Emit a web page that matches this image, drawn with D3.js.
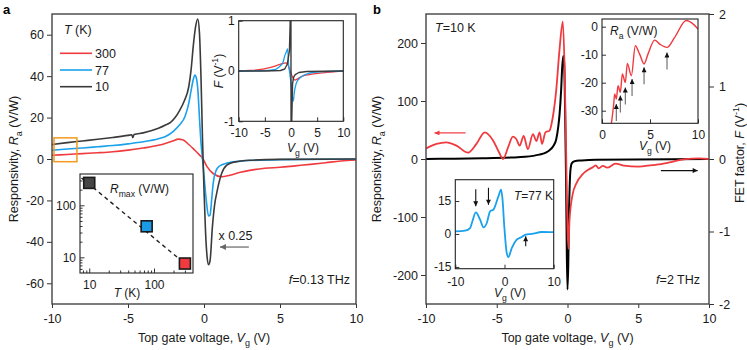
<!DOCTYPE html>
<html>
<head>
<meta charset="utf-8">
<script src="https://cdn.jsdelivr.net/npm/d3@7"></script>
<style>
body { margin: 0; background: #fff; }
svg { font-family: "Liberation Sans", Arial, Helvetica, sans-serif; }
</style>
</head>
<body>
<svg id="fig" width="747" height="350"></svg>
<script>
// ---------- panel a: responsivity vs gate voltage (T = 300, 77, 10 K) ----------
const aVg300 = [-10,-9,-8,-7,-6,-5,-4,-3,-2.5,-2,-1.7,-1.4,-1,-0.6,-0.3,-0.1,0.2,0.6,1.16,1.7,2.4,3,4,5,6,7,8,9,10];
const aRa300 = [1.8,2.2,2.6,3.0,3.5,4.3,5.3,6.6,7.6,8.8,9.6,9.3,7.0,4.2,2.0,0.5,-3.7,-7.0,-8.6,-7.8,-6.4,-5.5,-4.5,-4.0,-3.3,-2.6,-1.8,-1.0,-0.5];

const aVg77 = [-10,-9,-8,-7,-6,-5,-4,-3,-2.5,-2,-1.6,-1.25,-1,-0.85,-0.7,-0.6,-0.5,-0.4,-0.3,-0.2,-0.1,0,0.15,0.3,0.4,0.5,0.6,0.8,1,1.5,2.5,5,10];
const aRa77 = [4.2,4.8,5.3,5.9,6.5,7.3,8.3,9.8,11,13.5,16.5,20.5,27,33,38.5,40.5,39,33,20,8,0,-8,-20,-27.5,-27,-20,-12,-5.5,-3.5,-2,-1,-0.3,0];

const aVg10 = [-10,-9,-8,-7,-6,-5,-4.75,-4.68,-4.6,-4,-3,-2.5,-2.2,-1.9,-1.6,-1.3,-1,-0.85,-0.7,-0.55,-0.41,-0.3,-0.2,-0.1,0,0.1,0.2,0.3,0.4,0.55,0.7,0.85,1,1.16,1.5,2,3,5,10];
const aRa10 = [7.0,7.9,8.7,9.5,10.4,11.4,11.7,10.3,11.8,12.6,14.8,16.5,17.7,20,23.5,28,35,43,55,64,67.6,61,40,10,-15,-35,-47,-51,-49,-33,-22,-16,-11,-7,-3,-1.5,-0.6,-0.2,0];

const aTemps = ['300', '77', '10'];
const aXTicks = [-10, -5, 0, 5, 10];
const aYTicks = [-60, -40, -20, 0, 20, 40, 60];

// inset a1: FET factor F vs Vg
const fVg300 = [-10,-8,-6.5,-4.3,-2.4,-1.5,-1,-0.7,-0.4,-0.1,0.3,0.76,1.2,2.2,3.5,4.8,6.5,8.6,10];
const fF300 = [0,0.01,0.02,0.06,0.12,0.15,0.16,0.14,0.08,-0.02,-0.12,-0.18,-0.16,-0.1,-0.07,-0.05,-0.03,-0.01,0];
const fVg77 = [-10,-6,-4.3,-3,-2.4,-1.5,-1.2,-0.9,-0.63,-0.45,-0.3,0,0.25,0.45,0.6,0.96,1.5,2.2,3,4.8,7,10];
const fF77 = [0,0.005,0.01,0.03,0.07,0.18,0.3,0.38,0.44,0.1,0,-0.25,-0.5,-0.6,-0.45,-0.26,-0.16,-0.1,-0.06,-0.02,-0.01,0];
const fVg10 = [-10,-5,-2,-1.2,-0.7,-0.3,-0.1,-0.03,0.03,0.1,0.3,0.5,0.8,1.5,3,10];
const fF10 = [0,0,0.01,0.04,0.14,0.4,1.2,3,-3,-1.2,-0.25,-0.12,-0.07,-0.03,-0.01,0];
const fYTicks = [-1, 0, 1];

// inset a2: max responsivity vs temperature (log-log)
const rmaxT = [10, 77, 300];
const rmaxR = [270, 39.5, 7.6];
const fitT = [7.6, 300];
const fitR = [336, 7.6];
const rTicks = [10, 100];

// ---------- panel b: T = 10 K, f = 2 THz ----------
const bVgRed = [-10,-9.85,-9.26,-8.56,-7.85,-7.03,-6.44,-5.85,-5.26,-4.85,-4.56,-4.2,-3.86,-3.62,-3.38,-3.1,-2.8,-2.44,-2.2,-1.97,-1.8,-1.56,-1.27,-1.04,-0.8,-0.57,-0.33,-0.2,-0.1,0,0.07,0.14,0.37,0.61,1.08,1.5,1.8,2,2.2,2.5,2.8,3.4,4,5,6,6.6,7.2,8,8.8,9.3,10];
const bRaRed = [18,20,26,28.7,23,11,26,46,32,12,0,20,38.5,34.5,23,40,17,43,31,46,26,46,49,72,118,187,237,150,20,-120,-155,-106,-60,-43,-26,-18,-14,-11,-16,-12,-15,-8,-11.5,-13,-10.5,-9,-6,-1.5,0.5,1,0];
const bVgBlk = [-10,-8,-6,-4,-3,-2,-1.5,-1.27,-1,-0.8,-0.65,-0.56,-0.45,-0.38,-0.3,-0.24,-0.18,-0.1,-0.05,0,0.06,0.1,0.15,0.2,0.3,0.5,1,2,10];
const bFBlk = [0,0.005,0.01,0.02,0.03,0.06,0.09,0.12,0.18,0.27,0.45,0.62,0.95,1.25,1.42,1.35,0.8,-0.3,-1.3,-1.8,-1.4,-0.8,-0.4,-0.17,-0.06,-0.03,-0.02,-0.01,0];
const bYTicks = [-200, -100, 0, 100, 200];
const bFTicks = [-2, -1, 0, 1, 2];

// inset b1: R_a at positive Vg, dips marked by arrows
const b1Vg = [0.97,1.22,1.32,1.49,1.67,1.91,2.12,2.43,2.64,3.06,3.47,3.92,4.38,4.79,5.49,6.01,6.77,7.57,8.78,9.48,10];
const b1Ra = [-34.8,-27.6,-24,-25.8,-21.1,-23.4,-16.9,-19.9,-13.1,-17.5,-6.8,-9.8,-13.3,-9.8,-4.8,-6.2,-7.4,-3.8,2.2,1.0,-0.8];
const b1ArrowVg = [1.49, 1.91, 2.43, 3.13, 4.38, 6.77];
const b1ArrowRa = [-27.6, -24.6, -21.7, -18.7, -14.5, -9.2];
const b1YTicks = [-30, -20, -10, 0];
const b1XTicks = [0, 5, 10];

// inset b2: T = 77 K
const b2Vg = [-10,-8,-7,-6.52,-5.84,-4.96,-4.28,-3.6,-2.93,-2.25,-1.24,-0.7,-0.43,-0.02,0.45,0.79,1.47,2.48,3.5,4.31,5.53,7.56,10];
const b2Ra = [1.2,1.5,2.7,5.8,9.8,6.5,3.0,5.0,10.3,11.1,17.1,20.2,16.4,2.7,-8.6,-10.5,-6.4,-2.6,-1.4,-0.3,0,0.9,0.8];
const b2DownVg = [-5.84, -3.26];
const b2DownRa = [12.6, 13.3];
const b2UpVg = [4.31];
const b2UpRa = [-1.05];
const b2YTicks = [-15, 0, 15];
const b2XTicks = [-10, 0, 10];

// ---------- drawing ----------
const red = '#ef3a3f', blue = '#19a1ec', dark = '#3b3b3b', ink = '#1a1a1a';
const svg = d3.select('#fig');
const defs = svg.append('defs');
const fmt = d => String(d);

function clip(id, x, y, w, h) {
  defs.append('clipPath').attr('id', id).append('rect')
    .attr('x', x).attr('y', y).attr('width', w).attr('height', h);
}

function marker(id, color, w, h) {
  defs.append('marker').attr('id', id)
    .attr('viewBox', '0 0 10 10').attr('refX', 10).attr('refY', 5)
    .attr('markerWidth', w).attr('markerHeight', h)
    .attr('markerUnits', 'userSpaceOnUse').attr('orient', 'auto')
    .append('path').attr('d', 'M0,0L10,5L0,10z').attr('fill', color);
}
marker('hRed', red, 9, 5);
marker('hBlk', '#111', 9, 5);
marker('hGray', '#666', 9, 6);
marker('hSmall', '#111', 6, 5);

function styleAxis(g, fs) {
  g.attr('font-family', null).attr('font-size', fs);
  g.select('.domain').remove();
  g.selectAll('.tick line').attr('stroke', '#333');
  g.selectAll('.tick text').attr('fill', ink);
}

// text with italic / sub / superscript parts
function rich(parent, parts, fs) {
  const t = parent.append('text').attr('font-size', fs).attr('fill', ink);
  let shift = 0;
  parts.forEach(p => {
    const s = t.append('tspan').text(p.t);
    let want = 0;
    if (p.sub) want = fs * 0.3;
    if (p.sup) want = -fs * 0.38;
    if (want !== shift) { s.attr('dy', want - shift); shift = want; }
    if (p.i) s.attr('font-style', 'italic');
    if (p.sub || p.sup) s.attr('font-size', fs * 0.72);
  });
  return t;
}

function line(g, xs, ys, sx, sy, color, w, curve) {
  g.append('path')
    .datum(xs.map((x, i) => [x, ys[i]]))
    .attr('fill', 'none').attr('stroke', color).attr('stroke-width', w)
    .attr('stroke-linejoin', 'round')
    .attr('d', d3.line().x(d => sx(d[0])).y(d => sy(d[1])).curve(curve || d3.curveMonotoneX));
}

function frame(x0, y0, x1, y1, w, col) {
  svg.append('rect').attr('x', x0).attr('y', y0).attr('width', x1 - x0).attr('height', y1 - y0)
    .attr('fill', 'none').attr('stroke', col).attr('stroke-width', w);
}

const vgLabel = [{t: 'V', i: true}, {t: 'g', sub: true}, {t: ' (V)'}];

// ===== panel a =====
const A = {x0: 52, x1: 356, y0: 14, y1: 304};
const xa = d3.scaleLinear().domain([-10, 10]).range([A.x0, A.x1]);
const ya = d3.scaleLinear().domain([-70, 70]).range([A.y1, A.y0]);
clip('clipA', A.x0, A.y0, A.x1 - A.x0, A.y1 - A.y0);

svg.append('g').attr('transform', `translate(0,${A.y1})`)
  .call(d3.axisBottom(xa).tickValues(aXTicks).tickFormat(fmt).tickSize(4).tickPadding(6))
  .call(styleAxis, 12.5);
svg.append('g').attr('transform', `translate(${A.x0},0)`)
  .call(d3.axisLeft(ya).tickValues(aYTicks).tickFormat(fmt).tickSize(5).tickPadding(3))
  .call(styleAxis, 12.5);

const gA = svg.append('g').attr('clip-path', 'url(#clipA)');
line(gA, aVg300, aRa300, xa, ya, red, 1.6);
line(gA, aVg77, aRa77, xa, ya, blue, 1.6);
line(gA, aVg10, aRa10, xa, ya, dark, 1.6);
frame(A.x0, A.y0, A.x1, A.y1, 1.4, '#444');

// highlighted low-voltage region
svg.append('rect').attr('x', xa(-9.87)).attr('y', ya(10.2))
  .attr('width', xa(-8.36) - xa(-9.87)).attr('height', ya(-1.3) - ya(10.2))
  .attr('fill', 'none').attr('stroke', '#f39a1e').attr('stroke-width', 1.5);

// legend
rich(svg, [{t: 'T', i: true}, {t: ' (K)'}], 12.5).attr('x', 64).attr('y', 33.5);
const legColors = [red, blue, dark];
aTemps.forEach((t, i) => {
  const y = 53.3 + i * 16.7;
  svg.append('line').attr('x1', 60).attr('x2', 92).attr('y1', y).attr('y2', y)
    .attr('stroke', legColors[i]).attr('stroke-width', 1.6);
  svg.append('text').attr('x', 95).attr('y', y + 4.5).attr('font-size', 12.5).attr('fill', ink).text(t);
});

// scaling note
svg.append('text').attr('x', xa(0.95)).attr('y', ya(-39.3)).attr('font-size', 12.5).attr('fill', ink).text('x 0.25');
svg.append('line').attr('x1', xa(2.95)).attr('x2', xa(1.05)).attr('y1', ya(-42.5)).attr('y2', ya(-42.5))
  .attr('stroke', '#666').attr('stroke-width', 1.2).attr('marker-end', 'url(#hGray)');

rich(svg, [{t: 'f', i: true}, {t: '=0.13 THz'}], 12.5).attr('x', 350).attr('y', 284).attr('text-anchor', 'end');

// axis labels
rich(svg, [{t: 'Top gate voltage, '}].concat(vgLabel), 12.5)
  .attr('x', (A.x0 + A.x1) / 2).attr('y', 342).attr('text-anchor', 'middle');
rich(svg, [{t: 'Responsivity, '}, {t: 'R', i: true}, {t: 'a', sub: true}, {t: ' (V/W)'}], 12.5)
  .attr('text-anchor', 'middle').attr('transform', 'translate(18,159) rotate(-90)');

svg.append('text').attr('x', 3).attr('y', 14).attr('font-size', 13).attr('font-weight', 'bold').attr('fill', '#000').text('a');

// --- inset a1: F vs Vg ---
const F1 = {x0: 238.7, x1: 343.3, y0: 20.7, y1: 121.3};
const xf = d3.scaleLinear().domain([-10, 10]).range([F1.x0, F1.x1]);
const yf = d3.scaleLinear().domain([-1, 1]).range([F1.y1, F1.y0]);
clip('clipF', F1.x0, F1.y0, F1.x1 - F1.x0, F1.y1 - F1.y0);
svg.append('rect').attr('x', F1.x0).attr('y', F1.y0).attr('width', F1.x1 - F1.x0).attr('height', F1.y1 - F1.y0).attr('fill', '#fff');
svg.append('g').attr('transform', `translate(0,${F1.y1})`)
  .call(d3.axisBottom(xf).tickValues(aXTicks).tickFormat(fmt).tickSize(-4).tickPadding(7))
  .call(styleAxis, 12);
svg.append('g').attr('transform', `translate(${F1.x0},0)`)
  .call(d3.axisLeft(yf).tickValues(fYTicks).tickFormat(fmt).tickSize(-4).tickPadding(4))
  .call(styleAxis, 12);
const gF = svg.append('g').attr('clip-path', 'url(#clipF)');
line(gF, fVg300, fF300, xf, yf, red, 1.3);
line(gF, fVg77, fF77, xf, yf, blue, 1.3);
line(gF, fVg10, fF10, xf, yf, dark, 1.4, d3.curveLinear);
frame(F1.x0, F1.y0, F1.x1, F1.y1, 1.1, '#222');
rich(svg, [{t: 'F', i: true}, {t: ' (V'}, {t: '-1', sup: true}, {t: ')'}], 12)
  .attr('text-anchor', 'middle').attr('transform', 'translate(223,71) rotate(-90)');
rich(svg, vgLabel, 12).attr('x', 303).attr('y', 152).attr('text-anchor', 'middle');

// --- inset a2: Rmax vs T ---
const R2 = {x0: 80, x1: 193, y0: 174, y1: 273};
const rx = d3.scaleLog().domain([7.2, 400]).range([R2.x0, R2.x1]);
const ry = d3.scaleLog().domain([5, 400]).range([R2.y1, R2.y0]);
svg.append('rect').attr('x', R2.x0).attr('y', R2.y0).attr('width', R2.x1 - R2.x0).attr('height', R2.y1 - R2.y0).attr('fill', '#fff');
const minorX = [8, 9, 20, 30, 40, 50, 60, 70, 80, 90, 200, 300];
const minorY = [6, 7, 8, 9, 20, 30, 40, 50, 60, 70, 80, 90, 200, 300];
svg.append('g').attr('transform', `translate(0,${R2.y1})`)
  .call(d3.axisBottom(rx).tickValues(minorX).tickFormat('').tickSize(-2.5)).call(styleAxis, 12);
svg.append('g').attr('transform', `translate(0,${R2.y1})`)
  .call(d3.axisBottom(rx).tickValues(rTicks).tickFormat(fmt).tickSize(-4.5).tickPadding(7)).call(styleAxis, 12);
svg.append('g').attr('transform', `translate(${R2.x0},0)`)
  .call(d3.axisLeft(ry).tickValues(minorY).tickFormat('').tickSize(-2.5)).call(styleAxis, 12);
svg.append('g').attr('transform', `translate(${R2.x0},0)`)
  .call(d3.axisLeft(ry).tickValues(rTicks).tickFormat(fmt).tickSize(-4.5).tickPadding(4)).call(styleAxis, 12);
svg.append('line').attr('x1', rx(fitT[0])).attr('y1', ry(fitR[0])).attr('x2', rx(fitT[1])).attr('y2', ry(fitR[1]))
  .attr('stroke', '#222').attr('stroke-width', 1.4).attr('stroke-dasharray', '4,3.5');
const sqColors = ['#454545', '#1b9be6', '#ef3a3f'];
rmaxT.forEach((t, i) => {
  svg.append('rect').attr('x', rx(t) - 5.5).attr('y', ry(rmaxR[i]) - 5.5).attr('width', 11).attr('height', 11)
    .attr('fill', sqColors[i]).attr('stroke', '#1a1a1a').attr('stroke-width', 1.6);
});
frame(R2.x0, R2.y0, R2.x1, R2.y1, 1.1, '#222');
rich(svg, [{t: 'R', i: true}, {t: 'max', sub: true}, {t: ' (V/W)'}], 12).attr('x', 110).attr('y', 193);
rich(svg, [{t: 'T', i: true}, {t: ' (K)'}], 12).attr('x', 127).attr('y', 297).attr('text-anchor', 'middle');

// ===== panel b =====
const B = {x0: 426, x1: 709, y0: 14, y1: 304};
const xb = d3.scaleLinear().domain([-10, 10]).range([B.x0, B.x1]);
const yb = d3.scaleLinear().domain([-250, 250]).range([B.y1, B.y0]);
const yF = d3.scaleLinear().domain([-2, 2]).range([B.y1, B.y0]);
clip('clipB', B.x0, B.y0, B.x1 - B.x0, B.y1 - B.y0);

svg.append('g').attr('transform', `translate(0,${B.y1})`)
  .call(d3.axisBottom(xb).tickValues(aXTicks).tickFormat(fmt).tickSize(4).tickPadding(6))
  .call(styleAxis, 12.5);
svg.append('g').attr('transform', `translate(${B.x0},0)`)
  .call(d3.axisLeft(yb).tickValues(bYTicks).tickFormat(fmt).tickSize(5).tickPadding(3))
  .call(styleAxis, 12.5);
svg.append('g').attr('transform', `translate(${B.x1},0)`)
  .call(d3.axisRight(yF).tickValues(bFTicks).tickFormat(fmt).tickSize(5).tickPadding(5))
  .call(styleAxis, 12.5);

const gB = svg.append('g').attr('clip-path', 'url(#clipB)');
line(gB, bVgBlk, bFBlk, xb, yF, '#000', 2);
line(gB, bVgRed, bRaRed, xb, yb, red, 1.8);
frame(B.x0, B.y0, B.x1, B.y1, 1.4, '#444');

// axis pointers
svg.append('line').attr('x1', xb(-7.2)).attr('x2', xb(-9.4)).attr('y1', yb(45)).attr('y2', yb(45))
  .attr('stroke', red).attr('stroke-width', 1.2).attr('marker-end', 'url(#hRed)');
svg.append('line').attr('x1', xb(6.6)).attr('x2', xb(9.2)).attr('y1', yF(-0.16)).attr('y2', yF(-0.16))
  .attr('stroke', '#111').attr('stroke-width', 1.2).attr('marker-end', 'url(#hBlk)');

rich(svg, [{t: 'T', i: true}, {t: '=10 K'}], 12.5).attr('x', 435).attr('y', 32);
rich(svg, [{t: 'f', i: true}, {t: '=2 THz'}], 12.5).attr('x', 700).attr('y', 284).attr('text-anchor', 'end');

rich(svg, [{t: 'Top gate voltage, '}].concat(vgLabel), 12.5)
  .attr('x', (B.x0 + B.x1) / 2).attr('y', 342).attr('text-anchor', 'middle');
rich(svg, [{t: 'Responsivity, '}, {t: 'R', i: true}, {t: 'a', sub: true}, {t: ' (V/W)'}], 12.5)
  .attr('text-anchor', 'middle').attr('transform', 'translate(381,159) rotate(-90)');
rich(svg, [{t: 'FET factor, '}, {t: 'F', i: true}, {t: ' (V'}, {t: '-1', sup: true}, {t: ')'}], 12.5)
  .attr('text-anchor', 'middle').attr('transform', 'translate(744,153) rotate(-90)');

svg.append('text').attr('x', 373).attr('y', 14).attr('font-size', 13).attr('font-weight', 'bold').attr('fill', '#000').text('b');

// --- inset b1 ---
const I1 = {x0: 602, x1: 698, y0: 19, y1: 123.3};
const x1s = d3.scaleLinear().domain([0, 10]).range([I1.x0, I1.x1]);
const y1s = d3.scaleLinear().domain([-34.5, 2.75]).range([I1.y1, I1.y0]);
clip('clipI1', I1.x0, I1.y0, I1.x1 - I1.x0, I1.y1 - I1.y0);
svg.append('rect').attr('x', I1.x0).attr('y', I1.y0).attr('width', I1.x1 - I1.x0).attr('height', I1.y1 - I1.y0).attr('fill', '#fff');
svg.append('g').attr('transform', `translate(0,${I1.y1})`)
  .call(d3.axisBottom(x1s).tickValues(b1XTicks).tickFormat(fmt).tickSize(-4).tickPadding(7))
  .call(styleAxis, 12);
svg.append('g').attr('transform', `translate(${I1.x0},0)`)
  .call(d3.axisLeft(y1s).tickValues(b1YTicks).tickFormat(fmt).tickSize(-4).tickPadding(4))
  .call(styleAxis, 12);
const gI1 = svg.append('g').attr('clip-path', 'url(#clipI1)');
line(gI1, b1Vg, b1Ra, x1s, y1s, red, 1.4);
b1ArrowVg.forEach((v, i) => {
  const x = x1s(v), y = y1s(b1ArrowRa[i]);
  svg.append('line').attr('x1', x).attr('x2', x).attr('y1', y + 17).attr('y2', y)
    .attr('stroke', '#666').attr('stroke-width', 1.1).attr('marker-end', 'url(#hSmall)');
});
frame(I1.x0, I1.y0, I1.x1, I1.y1, 1.1, '#222');
rich(svg, [{t: 'R', i: true}, {t: 'a', sub: true}, {t: ' (V/W)'}], 12).attr('x', 610).attr('y', 35);
rich(svg, vgLabel, 12).attr('x', 655).attr('y', 150).attr('text-anchor', 'middle');

// --- inset b2 ---
const I2 = {x0: 455.3, x1: 553.7, y0: 179.7, y1: 268.7};
const x2s = d3.scaleLinear().domain([-10, 10]).range([I2.x0, I2.x1]);
const y2s = d3.scaleLinear().domain([-15.8, 24.7]).range([I2.y1, I2.y0]);
clip('clipI2', I2.x0, I2.y0, I2.x1 - I2.x0, I2.y1 - I2.y0);
svg.append('rect').attr('x', I2.x0).attr('y', I2.y0).attr('width', I2.x1 - I2.x0).attr('height', I2.y1 - I2.y0).attr('fill', '#fff');
svg.append('g').attr('transform', `translate(0,${I2.y1})`)
  .call(d3.axisBottom(x2s).tickValues(b2XTicks).tickFormat(fmt).tickSize(-4).tickPadding(9))
  .call(styleAxis, 12);
svg.append('g').attr('transform', `translate(${I2.x0},0)`)
  .call(d3.axisLeft(y2s).tickValues(b2YTicks).tickFormat(fmt).tickSize(-4).tickPadding(4))
  .call(styleAxis, 12);
const gI2 = svg.append('g').attr('clip-path', 'url(#clipI2)');
line(gI2, b2Vg, b2Ra, x2s, y2s, blue, 1.8);
b2DownVg.forEach((v, i) => {
  const x = x2s(v), y = y2s(b2DownRa[i]);
  svg.append('line').attr('x1', x).attr('x2', x).attr('y1', y - 17).attr('y2', y)
    .attr('stroke', '#111').attr('stroke-width', 1.1).attr('marker-end', 'url(#hSmall)');
});
b2UpVg.forEach((v, i) => {
  const x = x2s(v), y = y2s(b2UpRa[i]);
  svg.append('line').attr('x1', x).attr('x2', x).attr('y1', y + 10).attr('y2', y)
    .attr('stroke', '#111').attr('stroke-width', 1.1).attr('marker-end', 'url(#hSmall)');
});
frame(I2.x0, I2.y0, I2.x1, I2.y1, 1.1, '#222');
rich(svg, [{t: 'T', i: true}, {t: '=77 K'}], 12).attr('x', 514).attr('y', 200);
rich(svg, vgLabel, 12).attr('x', 510).attr('y', 297).attr('text-anchor', 'middle');
</script>
</body>
</html>
